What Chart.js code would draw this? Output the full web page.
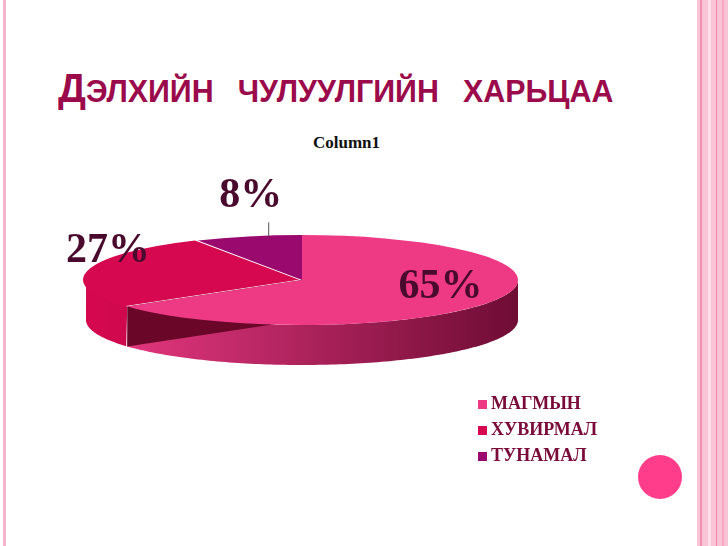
<!DOCTYPE html>
<html lang="mn">
<head>
<meta charset="UTF-8" />
<title>Дэлхийн чулуулгийн харьцаа</title>
<script src="https://cdn.jsdelivr.net/npm/chart.js"></script>
<style>
  body { margin: 0; width: 728px; height: 546px; background: #fff; position: relative; overflow: hidden; font-family: 'Liberation Serif', serif; }
  .lborder { position: absolute; left: 3px; top: 0; width: 3px; height: 546px; background: #f7b3cc; }
  .rstripe { position: absolute; top: 0; height: 546px; }
  #title { position: absolute; left: 58px; top: 66px; font-family: 'Liberation Sans Narrow', 'Liberation Sans', sans-serif; font-weight: bold; color: #9b0a4a; font-size: 31px; word-spacing: 16px; transform: scaleX(0.98); transform-origin: left; }
  #title .big { font-size: 40px; }
  #sub { position: absolute; left: 313px; top: 133px; font-weight: bold; font-size: 17px; color: #111; }
  #chartWrap { position: absolute; left: 60px; top: 58px; width: 484px; height: 444px; }
  #legend { position: absolute; left: 478px; top: 390px; font-weight: bold; font-size: 18px; color: #7a0a3a; line-height: 26px; }
  #legend span.sw { display: inline-block; width: 9px; height: 9px; margin-right: 4px; }
  .dot { position: absolute; left: 638px; top: 455px; width: 44px; height: 44px; border-radius: 50%; background: #ff3d8a; }
</style>
</head>
<body>
<div class="lborder"></div>
<div class="rstripe" style="left:697px;width:31px;background:#fbc4d6"></div>
<div class="rstripe" style="left:700px;width:2px;background:#f08fb2"></div>
<div class="rstripe" style="left:708px;width:3px;background:#fde0ea"></div>
<div class="rstripe" style="left:716px;width:1px;background:#ee88ad"></div>
<div class="rstripe" style="left:722px;width:2px;background:#f7a8c4"></div>
<div id="title"><span class="big">Д</span>ЭЛХИЙН ЧУЛУУЛГИЙН ХАРЬЦАА</div>
<div id="sub">Column1</div>
<div id="chartWrap"><canvas id="pie" width="484" height="444"></canvas></div>
<div id="legend"></div>
<div class="dot"></div>

<script>
  const categories = ['МАГМЫН', 'ХУВИРМАЛ', 'ТУНАМАЛ'];
  const values = [65, 27, 8];
  const labelsPct = ['65%', '27%', '8%'];

  const colors = ['#ee3a85', '#d6084f', '#9a0a6e'];
  const sideDark = ['#6e0c34', '#8a0630', '#5a0645'];
  const RY = 45, DEPTH = 40;

  // legend
  document.getElementById('legend').innerHTML = categories.map((c, i) =>
    `<div><span class="sw" style="background:${colors[i]}"></span>${c}</div>`).join('');

  const pie3d = {
    id: 'pie3d',
    beforeDatasetsDraw(chart) {
      const ctx = chart.ctx;
      const arcs = chart.getDatasetMeta(0).data;
      // side walls (front half only)
      arcs.forEach((a, i) => {
        const k = RY / a.outerRadius;
        const s = Math.max(a.startAngle, 0), e = Math.min(a.endAngle, Math.PI);
        if (e <= s) return;
        ctx.save();
        const g = ctx.createLinearGradient(a.x - a.outerRadius, 0, a.x + a.outerRadius, 0);
        g.addColorStop(0, colors[i]);
        g.addColorStop(1, sideDark[i]);
        ctx.fillStyle = g;
        ctx.beginPath();
        let first = true;
        for (let t = s; t <= e + 1e-6; t += 0.02) {
          const x = a.x + Math.cos(t) * a.outerRadius, y = a.y + Math.sin(t) * a.outerRadius * k;
          if (first) { ctx.moveTo(x, y); first = false; } else ctx.lineTo(x, y);
        }
        for (let t = e; t >= s - 1e-6; t -= 0.02) {
          ctx.lineTo(a.x + Math.cos(t) * a.outerRadius, a.y + Math.sin(t) * a.outerRadius * k + DEPTH);
        }
        ctx.closePath();
        ctx.fill();
        // cut face of exploded slice
        if (i === 1) {
          const t = a.startAngle;
          ctx.fillStyle = '#6a0628';
          ctx.beginPath();
          ctx.moveTo(a.x, a.y);
          ctx.lineTo(a.x + Math.cos(t) * a.outerRadius, a.y + Math.sin(t) * a.outerRadius * k);
          ctx.lineTo(a.x + Math.cos(t) * a.outerRadius, a.y + Math.sin(t) * a.outerRadius * k + DEPTH);
          ctx.lineTo(a.x, a.y + DEPTH);
          ctx.closePath();
          ctx.fill();
        }
        ctx.restore();
      });
      const c = arcs[0];
      ctx.save();
      ctx.translate(c.x, c.y);
      ctx.scale(1, RY / c.outerRadius);
      ctx.translate(-c.x, -c.y);
    },
    afterDatasetsDraw(chart) {
      const ctx = chart.ctx;
      ctx.restore();
      const arcs = chart.getDatasetMeta(0).data;
      ctx.save();
      ctx.font = 'bold 42px "Liberation Serif", serif';
      ctx.fillStyle = '#4a0a2e';
      ctx.textAlign = 'center';
      ctx.textBaseline = 'middle';
      arcs.forEach((a, i) => {
        const k = RY / a.outerRadius;
        const m = (a.startAngle + a.endAngle) / 2;
        let x, y;
        if (i === 0) {
          x = a.x + Math.cos(m) * a.outerRadius * 0.72;
          y = a.y + Math.sin(m) * a.outerRadius * k * 0.72 - 8;
        } else if (i === 1) {
          x = a.x + Math.cos(m) * a.outerRadius * 0.92;
          y = a.y - RY + 16;
        } else {
          const lx = a.x + Math.cos(m) * a.outerRadius * 0.62;
          const ly = a.y + Math.sin(m) * a.outerRadius * k * 1.0;
          ctx.strokeStyle = '#555';
          ctx.lineWidth = 1;
          ctx.beginPath();
          ctx.moveTo(lx, ly);
          ctx.lineTo(lx, ly - 14);
          ctx.stroke();
          x = lx - 18;
          y = ly - 40;
        }
        ctx.fillText(labelsPct[i], x, y);
      });
      ctx.restore();
    }
  };

  new Chart(document.getElementById('pie'), {
    type: 'pie',
    data: {
      labels: categories,
      datasets: [{
        data: values,
        backgroundColor: colors,
        borderWidth: 0,
        offset: [0, 12, 0]
      }]
    },
    options: {
      responsive: false,
      animation: false,
      layout: { padding: 0 },
      plugins: { legend: { display: false }, tooltip: { enabled: false } }
    },
    plugins: [pie3d]
  });
</script>
</body>
</html>
